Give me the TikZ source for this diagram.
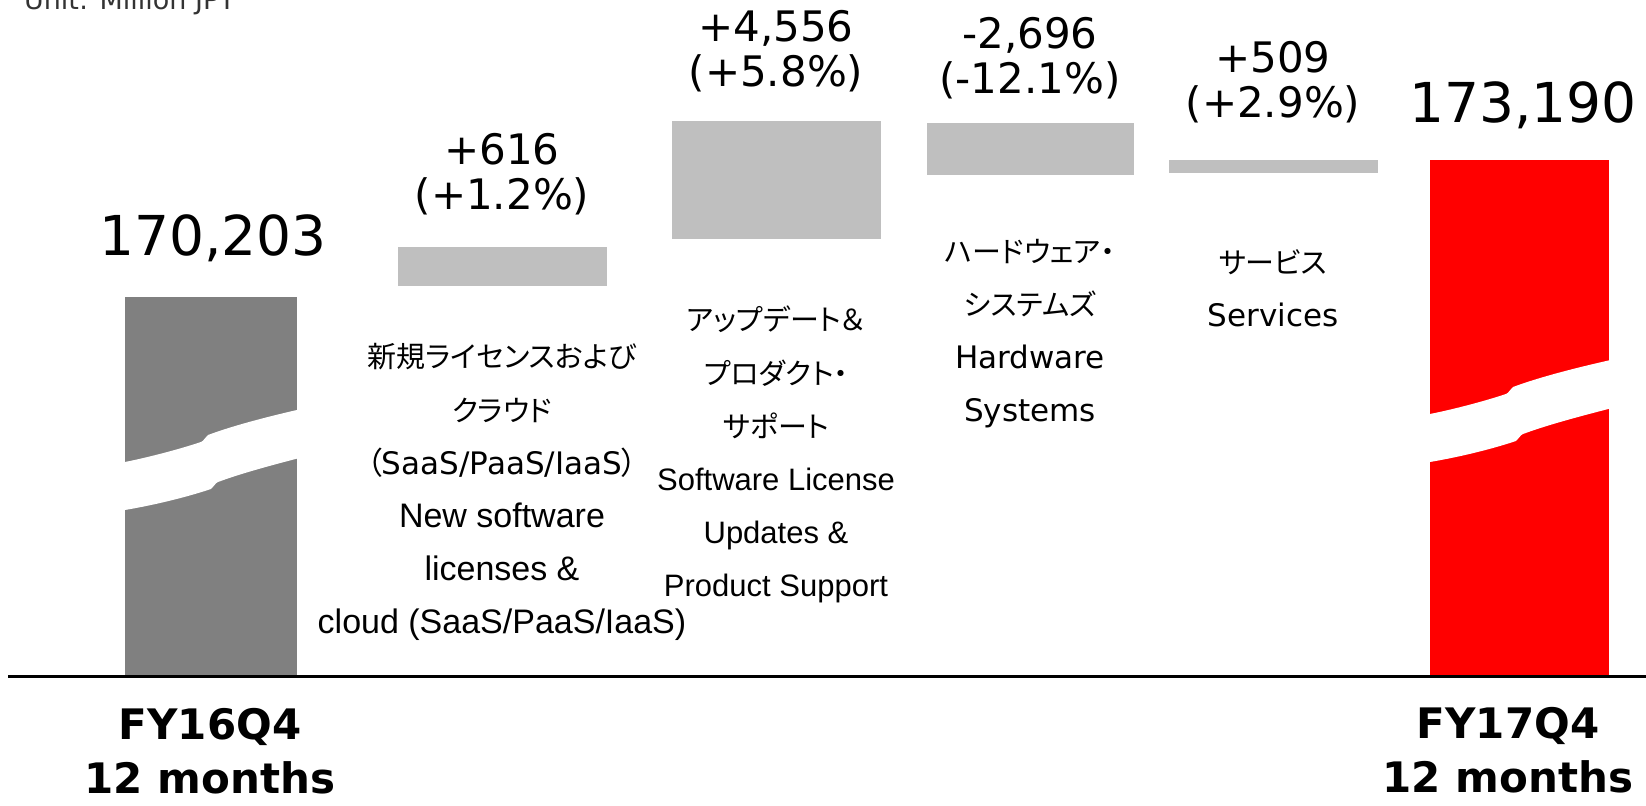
\documentclass[tikz,border=0pt]{standalone}
\usepackage{fontspec}
\setmainfont{DejaVu Sans}
\newfontfamily\jpf[RawFeature=+palt]{Noto Sans CJK JP}
\newfontfamily\gothf{Liberation Sans}
\usepackage{tikz}
\usetikzlibrary{positioning}
\usetikzlibrary{calc}
\definecolor{totgray}{HTML}{808080}
\definecolor{dltgray}{HTML}{BFBFBF}
\definecolor{fyred}{HTML}{FF0000}
\tikzset{every picture/.style={x=0.5pt,y=-0.5pt}}

\begin{document}
\begin{tikzpicture}[tot/.style={font=\fontsize{27.5}{30}\selectfont},
dlt/.style={font=\fontsize{21}{22.5}\selectfont,align=center},
fy/.style={font=\bfseries\fontsize{21}{27}\selectfont,align=center},
jp/.style={font=\jpf\fontsize{14.5}{17}\selectfont,anchor=base},
vd/.style={font=\fontsize{15.5}{18}\selectfont,anchor=base},
ena/.style={font=\gothf\fontsize{17}{20}\selectfont,anchor=base},
enb/.style={font=\gothf\fontsize{15.5}{18}\selectfont,anchor=base}]
\useasboundingbox (0,0) rectangle (1646,806);
\node (unit) at (17,10) [anchor=base west,font=\fontsize{13.5}{15}\selectfont,text=black!80] {Unit: Million JPY};
\fill[totgray] (125,297) rectangle (297,677);
\fill[fyred] (1430,160) rectangle (1609,677);
\foreach \x/\y/\X/\Y in {398/247/607/286,672/121/881/239,927/123/1134/175,1169/160/1378/173} {
\fill[dltgray] (\x,\y) rectangle (\X,\Y);
}
\foreach \bx/\by/\bw in {125/462/172,1430/414/179} {
\begin{scope}
\clip (\bx,0) rectangle ++(\bw,806);
\fill[white,shift={(\bx,\by)}] (-5,1) -- (0,0) .. controls (25,-5) and (55,-13) .. (76,-20) .. controls (79,-21) and (80,-25) .. (83,-27) .. controls (110,-37) and (145,-46) .. (185,-55) -- (190,-8) .. controls (155,1) and (120,10) .. (93,20) .. controls (90,21) and (89,25) .. (86,27) .. controls (65,34) and (35,42) .. (0,48) -- (-5,49) -- cycle;
\end{scope}
}
\coordinate (axl) at (8,677);
\coordinate (axr) at (1646,677);
\draw[line width=1.5pt] (axl) -- (axr);
\node (v16) at (213,238) [tot] {170,203};
\node (v17) at (1523,105) [tot] {173,190};
\foreach \n/\x/\y/\v/\p in {a/502/174/{+616}/{+1.2},b/776/51/{+4,556}/{+5.8},c/1030/58/{-2,696}/{-12.1},d/1273/82/{+509}/{+2.9}} {
\node (d\n) at (\x,\y) [dlt] {\v\\(\p\%)};
}
\foreach \s/\t [count=\k] in {jp/{新規ライセンスおよび},jp/{クラウド},vd/{{\jpf （}SaaS/PaaS/IaaS{\jpf ）}},ena/{New software},ena/{licenses \&},ena/{cloud (SaaS/PaaS/IaaS)}} {
\node (la\k) at (502,{368+53.2*(\k-1)}) [\s] {\t};
}
\foreach \s/\t [count=\k] in {jp/{アップデート＆},jp/{プロダクト・},jp/{サポート},enb/{Software License},enb/{Updates \&},enb/{Product Support}} {
\node (lb\k) at (776,{331+53.2*(\k-1)}) [\s] {\t};
}
\foreach \s/\t [count=\k] in {jp/{ハードウェア・},jp/{システムズ},vd/{Hardware},vd/{Systems}} {
\node (lc\k) at (1030,{263+52.7*(\k-1)}) [\s] {\t};
}
\foreach \s/\t [count=\k] in {jp/{サービス},vd/{Services}} {
\node (ld\k) at (1273,{274+52.7*(\k-1)}) [\s] {\t};
}
\node (fy16) at (210,751) [fy] {FY16Q4\\12 months};
\node (fy17) at (1508,750) [fy] {FY17Q4\\12 months};
\end{tikzpicture}
\end{document}
